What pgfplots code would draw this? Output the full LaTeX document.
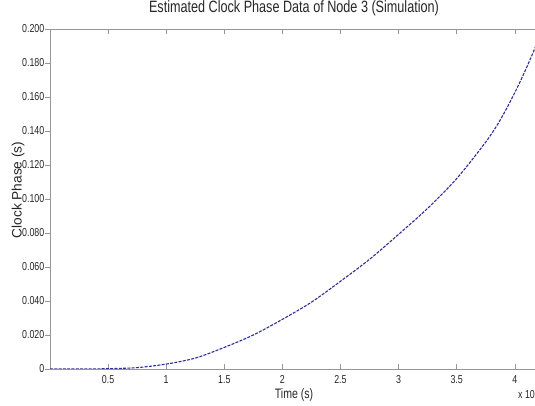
\documentclass[border=0pt]{standalone}
\usepackage{fontspec}
\setmainfont{Liberation Sans}
\usepackage{graphicx}
\usepackage{pgfplots}
\pgfplotsset{compat=1.18}

% condensed set for the horizontal texts
\newcommand\cn[1]{\scalebox{0.77}[1]{#1}}

\definecolor{phase}{RGB}{45,45,150}
\definecolor{frame}{RGB}{150,150,150}

% Estimated clock phase of node 3, time in units of 10^4 s
\pgfplotstableread{
t      phase
0.00   0.0000
0.25   0.0000
0.50   0.0002
0.75   0.0008
1.00   0.0029
1.25   0.0064
1.50   0.0127
1.75   0.0200
2.00   0.0292
2.25   0.0393
2.50   0.0516
2.75   0.0645
3.00   0.0792
3.25   0.0945
3.50   0.1120
3.75   0.1335
3.875  0.1465
4.00   0.1625
4.10   0.1770
4.20   0.1930
}\phasedata

\begin{document}
\begin{tikzpicture}
\useasboundingbox (0,0) rectangle (535pt,406pt);
\clip (0,0) rectangle (535pt,406pt);
\begin{axis}[
  at={(50pt,37pt)}, anchor=south west,
  scale only axis, width=488pt, height=340pt,
  xmin=0, xmax=4.2, ymin=0, ymax=0.2,
  xtick={0.5,1,...,4},
  xticklabels={\cn{0.5},\cn{1},\cn{1.5},\cn{2},\cn{2.5},\cn{3},\cn{3.5},\cn{4}},
  ytick={0,0.02,...,0.2},
  yticklabels={\cn{0},\cn{0.020},\cn{0.040},\cn{0.060},\cn{0.080},\cn{0.100},
    \cn{0.120},\cn{0.140},\cn{0.160},\cn{0.180},\cn{0.200}},
  /pgf/number format/assume math mode=true,
  axis line style={frame},
  major tick style={frame, line width=0.5pt},
  major tick length=5pt,
  xtick align=inside, ytick align=outside,
  tick label style={font=\fontsize{11.5}{13}\selectfont, text=black!85},
  xticklabel style={anchor=base, yshift=-15pt, inner sep=0pt},
  yticklabel style={anchor=east, inner sep=0pt, xshift=-0.5pt},
  title={\cn{Estimated Clock Phase Data of Node 3 (Simulation)}},
  title style={at={(axis description cs:0.5,1)}, anchor=base, yshift=10pt,
    inner sep=0pt, font=\fontsize{16.4}{18}\selectfont, text=black!85},
  xlabel={\cn{Time (s)}},
  xlabel style={at={(axis description cs:0.5,0)}, anchor=base, yshift=-30pt,
    inner sep=0pt, font=\fontsize{13.7}{15}\selectfont, text=black!85},
  clip mode=individual,
]
\addplot[phase, smooth, line width=1.1pt, dash pattern=on 3pt off 1.3pt] table[x=t, y=phase] {\phasedata};
\node[anchor=base east, inner sep=0pt, font=\fontsize{11.5}{13}\selectfont, text=black!85]
  at (rel axis cs:0.994,0) [yshift=-30pt] {\cn{x 10}};
\end{axis}
% y-axis label, set beside the axis
\node[rotate=90, anchor=center, inner sep=0pt, text=black!85,
  font=\fontsize{13.7}{15}\selectfont] at (18pt,216pt) {Clock Phase (s)};
\end{tikzpicture}
\end{document}
